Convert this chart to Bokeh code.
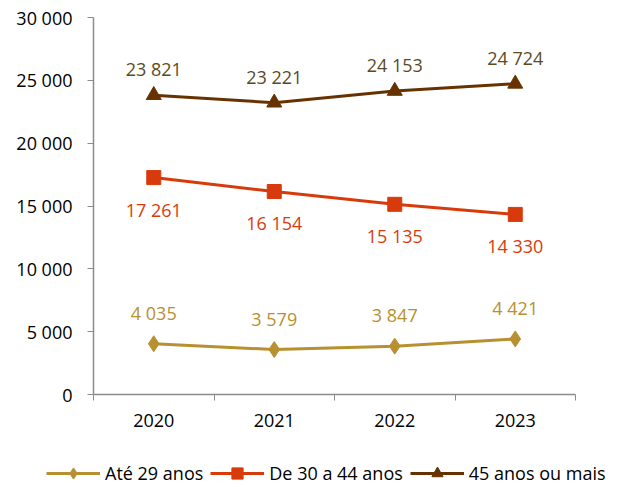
from bokeh.plotting import figure
from bokeh.models import FixedTicker, Legend, LegendItem, ColumnDataSource, Range1d
from bokeh.core.properties import value
from bokeh.embed import file_html
from bokeh.resources import INLINE

years = ["2020", "2021", "2022", "2023"]
ate29 = [4035, 3579, 3847, 4421]
de30a44 = [17261, 16154, 15135, 14330]
mais45 = [23821, 23221, 24153, 24724]
series_names = ["Até 29 anos", "De 30 a 44 anos", "45 anos ou mais"]
y_ticks = [0, 5000, 10000, 15000, 20000, 25000, 30000]

FONT = "Open Sans"
W, H = 629, 487
# pixel geometry of the plotting area inside the canvas
LEFT, RIGHT, TOP, BOTTOM = 93, 575, 17, 394
YMAX = 30000
NCAT = len(years)

def fmt(v):
    return f"{v:,}".replace(",", " ")

xs = [i + 0.5 for i in range(NCAT)]

ux = (RIGHT - LEFT) / NCAT
uy = (BOTTOM - TOP) / YMAX
x_range = Range1d(-LEFT / ux, (W - LEFT) / ux)
y_range = Range1d(-(H - BOTTOM) / uy, YMAX + TOP / uy)

p = figure(width=W, height=H, output_backend="svg", toolbar_location=None,
           x_range=x_range, y_range=y_range,
           min_border_left=0, min_border_right=0, min_border_top=0, min_border_bottom=0)
p.outline_line_color = None
p.xgrid.grid_line_color = None
p.ygrid.grid_line_color = None

# axes placed at the data origin
p.xaxis.fixed_location = 0
p.yaxis.fixed_location = 0
p.xaxis.bounds = (0, NCAT)
p.yaxis.bounds = (0, YMAX)
p.xaxis.ticker = FixedTicker(ticks=xs, minor_ticks=list(range(NCAT + 1)))
p.xaxis.major_label_overrides = {x: y for x, y in zip(xs, years)}
p.xaxis.major_tick_out = 0
p.xaxis.major_tick_in = 0
p.xaxis.minor_tick_out = 6
p.xaxis.minor_tick_in = 0
p.xaxis.minor_tick_line_color = "#8c8c8c"
p.xaxis.axis_line_color = "#8c8c8c"
p.xaxis.axis_line_width = 1.5
p.xaxis.major_label_standoff = 13
p.yaxis.ticker = FixedTicker(ticks=y_ticks)
p.yaxis.major_label_overrides = {t: fmt(t) for t in y_ticks}
p.yaxis.major_tick_out = 6
p.yaxis.major_tick_in = 0
p.yaxis.minor_tick_line_color = None
p.yaxis.major_tick_line_color = "#8c8c8c"
p.yaxis.axis_line_color = "#8c8c8c"
p.yaxis.axis_line_width = 1.5
p.yaxis.major_label_standoff = 15
for ax in (p.xaxis, p.yaxis):
    ax.major_label_text_font = FONT
    ax.major_label_text_font_size = "18px"
    ax.major_label_text_color = "#000000"

colors = ["#B8902F", "#D83B0B", "#663300"]
label_colors = ["#B8902F", "#D83B0B", "#5C4A1E"]
data = [ate29, de30a44, mais45]
markers = ["diamond", "square", "triangle"]
msizes = [16, 14, 15]
offsets = [-31, 32, -26]
items = []
for name, vals, c, lc, m, ms, off in zip(series_names, data, colors, label_colors, markers, msizes, offsets):
    src = ColumnDataSource(dict(x=xs, y=vals, lab=[fmt(v) for v in vals]))
    ln = p.line("x", "y", source=src, line_color=c, line_width=3)
    sc = p.scatter("x", "y", source=src, marker=m, size=ms, fill_color=c, line_color=c)
    p.text("x", "y", text="lab", source=src, text_color=lc, text_font=value(FONT),
           text_font_size="18px", text_align="center", text_baseline="middle", y_offset=off)
    items.append(LegendItem(label=name, renderers=[ln, sc], index=0))

legend = Legend(items=items, orientation="horizontal", location=(46, 0),
                label_text_font=FONT, label_text_font_size="18px", label_text_color="#000000",
                glyph_width=54, glyph_height=28, spacing=7, label_standoff=5,
                border_line_color=None, background_fill_alpha=0, padding=0, margin=0)
p.add_layout(legend, "center")

open("out.html", "w").write(file_html(p, INLINE))
